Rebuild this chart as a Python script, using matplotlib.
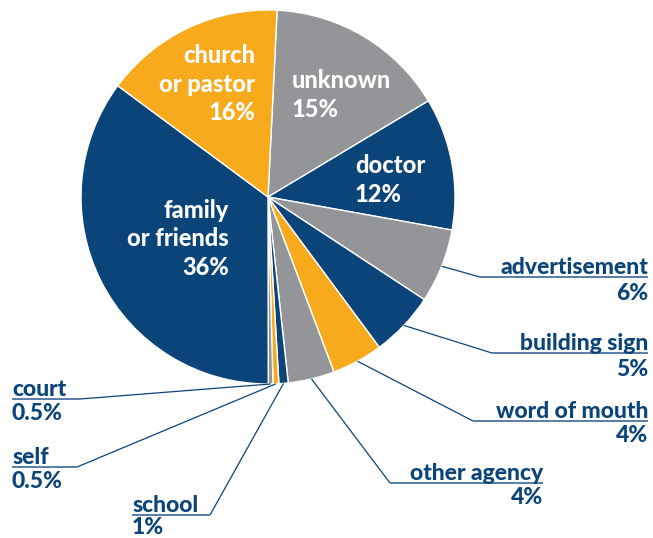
import numpy as np
import matplotlib.pyplot as plt

sources = ["unknown", "doctor", "advertisement", "building sign", "word of mouth",
           "other agency", "school", "self", "court", "family\nor friends", "church\nor pastor"]
shares = [15.6, 11.4, 6.4, 5.6, 4.4, 4.0, 0.8, 0.5, 0.4, 35.1, 15.6]
pct_labels = ["15%", "12%", "6%", "5%", "4%", "4%", "1%", "0.5%", "0.5%", "36%", "16%"]

NAVY = "#0b4479"
ORANGE = "#f8aa1d"
GRAY = "#949599"
colors = [GRAY, NAVY, GRAY, NAVY, ORANGE, GRAY, NAVY, ORANGE, GRAY, NAVY, ORANGE]

W, H = 653, 538
cx, cy, R = 268, 197, 187

plt.rcParams['font.family'] = ['Lato', 'DejaVu Sans']

fig = plt.figure(figsize=(W / 100, H / 100), dpi=100)
ax = fig.add_axes([0, 0, 1, 1])

# y axis is inverted below, so counterclock in data space reads clockwise on screen
wedges, _ = ax.pie(shares, colors=colors, startangle=-87.2, counterclock=True,
                   center=(cx, cy), radius=R, frame=True,
                   wedgeprops=dict(edgecolor="white", linewidth=1))
ax.set_xlim(0, W)
ax.set_ylim(H, 0)
ax.set_aspect("equal")
ax.axis("off")

# labels inside the pie
inside = {
    0: (292, 95, "left"),
    1: (355, 180, "left"),
    9: (229, 239, "right"),
    10: (255, 84, "right"),
}
for i, (x, y, ha) in inside.items():
    ax.text(x, y, sources[i] + "\n" + pct_labels[i], color="white", fontsize=17,
            fontweight="black", ha=ha, va="center", linespacing=1.3)

# labels outside, with leader and underline: (underline y, x0, x1, side, pct offset)
outside = {
    2: (277, 480, 648, "right", 17),
    3: (353, 492, 648, "right", 17),
    4: (421, 473, 648, "right", 15),
    5: (483, 390, 543, "right", 15),
    6: (515, 132, 210, "left", 12),
    7: (467, 12, 77, "left", 15),
    8: (399, 12, 80, "left", 14),
}
for i, (uy, x0, x1, side, dy) in outside.items():
    w = wedges[i]
    th = np.deg2rad((w.theta1 + w.theta2) / 2)
    px = cx + R * np.cos(th)
    py = cy + R * np.sin(th)
    if side == "right":
        ax.plot([px, x0], [py, uy], color=NAVY, lw=0.9, solid_capstyle="butt")
        tx, ha = x1, "right"
    else:
        ax.plot([px, x1], [py, uy], color=NAVY, lw=0.9, solid_capstyle="butt")
        tx, ha = x0, "left"
    ax.plot([x0, x1], [uy, uy], color="#4a74a3", lw=1.3, solid_capstyle="butt")
    ax.text(tx, uy - 3, sources[i], color=NAVY, fontsize=16.5, fontweight="black",
            ha=ha, va="baseline")
    ax.text(tx, uy + dy, pct_labels[i], color=NAVY, fontsize=16.5, fontweight="black",
            ha=ha, va="center")

fig.savefig("out.png", dpi=100)
